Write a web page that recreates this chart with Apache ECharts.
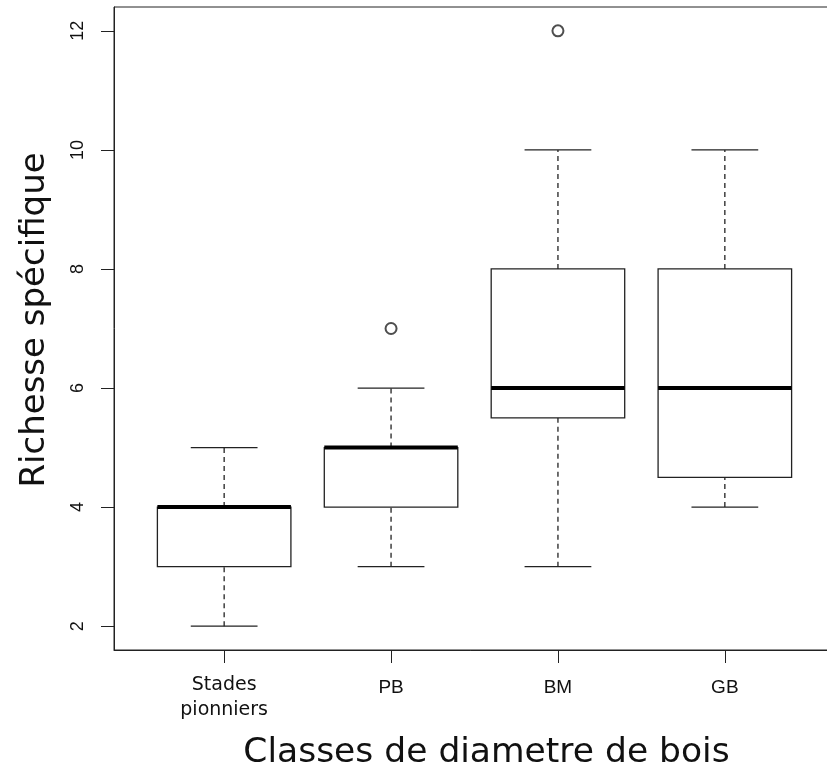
<!DOCTYPE html>
<html>
<head>
<meta charset="utf-8">
<script src="https://cdn.jsdelivr.net/npm/echarts@6/dist/echarts.min.js"></script>
<style>
  html, body { margin: 0; padding: 0; background: #fff; }
  #chart { width: 827px; height: 768px; }
</style>
</head>
<body>
<div id="chart"></div>
<script>
// ---- data ----
const categories = ['Stades\npionniers', 'PB', 'BM', 'GB'];
const whiskerLow = [2, 3, 3, 4];
const quart1 = [3, 4, 5.5, 4.5];
const medians = [4, 5, 6, 6];
const quart3 = [4, 5, 8, 8];
const whiskerHigh = [5, 6, 10, 10];
const outlierCategory = [2, 3];
const outlierValue = [7, 12];
const yTicks = [2, 4, 6, 8, 10, 12];
const xTicks = [1, 2, 3, 4];

const boxData = categories.map((c, i) => [i + 1, whiskerLow[i], quart1[i], medians[i], quart3[i], whiskerHigh[i]]);
const outlierData = outlierCategory.map((c, i) => [c, outlierValue[i]]);

const ink = '#222';
const chart = echarts.init(document.getElementById('chart'));

function renderBox(params, api) {
  const x = api.value(0);
  const pLo = api.coord([x, api.value(1)]);
  const pQ1 = api.coord([x, api.value(2)]);
  const pMed = api.coord([x, api.value(3)]);
  const pQ3 = api.coord([x, api.value(4)]);
  const pHi = api.coord([x, api.value(5)]);
  const halfBox = api.size([0.4, 0])[0];
  const halfCap = api.size([0.2, 0])[0];
  const cx = pMed[0];
  const lineStyle = { stroke: ink, lineWidth: 1.3, fill: null };
  const dashStyle = { stroke: ink, lineWidth: 1.3, lineDash: [5, 4], fill: null };
  return {
    type: 'group',
    children: [
      { type: 'line', shape: { x1: cx, y1: pLo[1], x2: cx, y2: pQ1[1] }, style: dashStyle },
      { type: 'line', shape: { x1: cx, y1: pQ3[1], x2: cx, y2: pHi[1] }, style: dashStyle },
      { type: 'line', shape: { x1: cx - halfCap, y1: pLo[1], x2: cx + halfCap, y2: pLo[1] }, style: lineStyle },
      { type: 'line', shape: { x1: cx - halfCap, y1: pHi[1], x2: cx + halfCap, y2: pHi[1] }, style: lineStyle },
      { type: 'rect', shape: { x: cx - halfBox, y: pQ3[1], width: 2 * halfBox, height: pQ1[1] - pQ3[1] },
        style: { stroke: ink, lineWidth: 1.3, fill: '#fff' } },
      { type: 'line', shape: { x1: cx - halfBox, y1: pMed[1], x2: cx + halfBox, y2: pMed[1] },
        style: { stroke: '#000', lineWidth: 4 } }
    ]
  };
}

const option = {
  animation: false,
  backgroundColor: '#fff',
  grid: {
    left: 114, top: 7, width: 721, height: 643,
    outerBoundsMode: 'none',
    containLabel: false,
    show: true, borderColor: ink, borderWidth: 1, backgroundColor: 'transparent'
  },
  xAxis: {
    type: 'value',
    min: 0.34, max: 4.66,
    splitLine: { show: false },
    axisLine: { show: true, lineStyle: { color: ink, width: 1 } },
    axisTick: { show: true, customValues: xTicks, length: 13, lineStyle: { color: ink, width: 1 } },
    axisLabel: {
      customValues: xTicks,
      margin: 23,
      verticalAlign: 'top',
      formatter: function (v) {
        const lab = categories[Math.round(v) - 1] || '';
        if (lab.indexOf('\n') >= 0) {
          return lab.split('\n').map(s => '{d|' + s + '}').join('\n');
        }
        return '{l|' + lab + '}';
      },
      rich: {
        d: { fontFamily: 'DejaVu Sans', fontSize: 19, lineHeight: 25, color: '#111' },
        l: { fontFamily: 'Liberation Sans', fontSize: 19, lineHeight: 25, color: '#111', padding: [5, 0, 0, 0] }
      }
    },
    name: 'Classes de diametre de bois',
    nameLocation: 'middle',
    nameGap: 86,
    nameTextStyle: { fontFamily: 'DejaVu Sans', fontSize: 34.5, color: '#111', padding: [0, 0, 0, 24] }
  },
  yAxis: {
    type: 'value',
    min: 1.6, max: 12.4,
    splitLine: { show: false },
    axisLine: { show: true, lineStyle: { color: ink, width: 1 } },
    axisTick: { show: true, customValues: yTicks, length: 13, lineStyle: { color: ink, width: 1 } },
    axisLabel: {
      customValues: yTicks,
      rotate: 90,
      margin: 27,
      fontFamily: 'Liberation Sans',
      fontSize: 18,
      color: '#111'
    },
    name: 'Richesse spécifique',
    nameLocation: 'middle',
    nameGap: 62,
    nameTextStyle: { fontFamily: 'DejaVu Sans', fontSize: 34, color: '#111', padding: [0, 0, 0, 17] }
  },
  series: [
    {
      type: 'custom',
      renderItem: renderBox,
      data: boxData,
      encode: { x: 0, y: [1, 2, 3, 4, 5] },
      clip: false,
      z: 2
    },
    {
      type: 'scatter',
      data: outlierData,
      symbol: 'emptyCircle',
      symbolSize: 11,
      itemStyle: { color: ink, borderColor: ink, borderWidth: 1.4 },
      z: 3
    }
  ]
};
chart.setOption(option);
</script>
</body>
</html>
